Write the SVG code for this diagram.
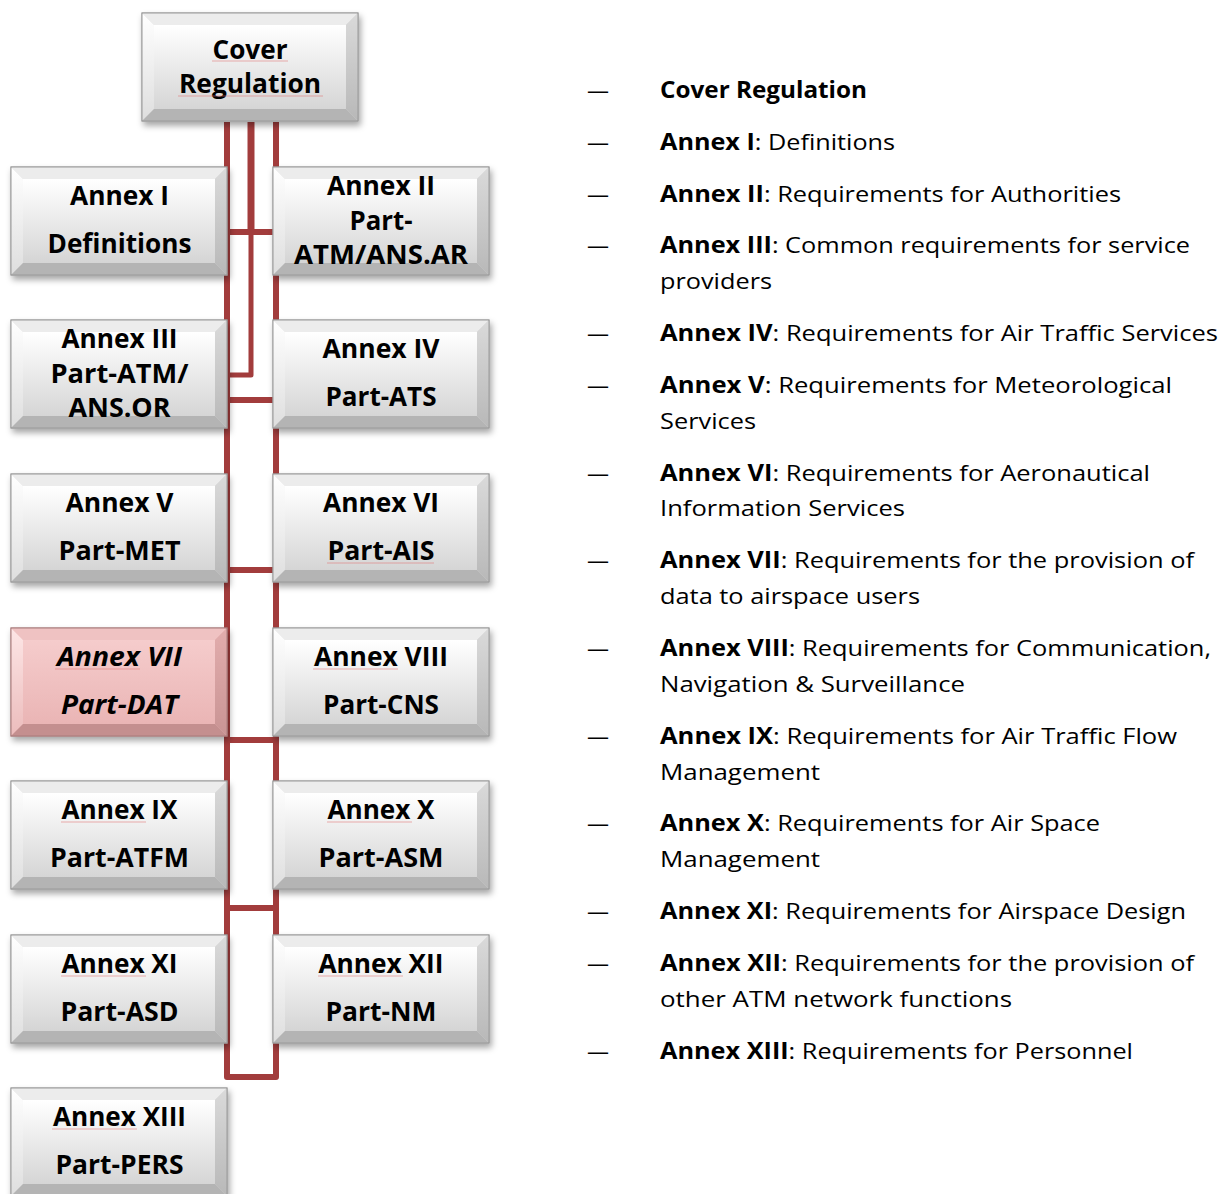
<svg xmlns="http://www.w3.org/2000/svg" xmlns:xlink="http://www.w3.org/1999/xlink" width="1222" height="1194" viewBox="0 0 1222 1194">
<style>
.bt{font-family:"Open Sans","Noto Sans","DejaVu Sans",sans-serif;font-weight:700;font-size:26px;text-anchor:middle;fill:#000}
.it{font-style:italic}
.lt{font-family:"Open Sans","Noto Sans","DejaVu Sans",sans-serif;font-size:22.5px;fill:#000}
.b{font-weight:700}
.con{fill:none;stroke:#a23c3c;stroke-width:6;stroke-linejoin:round}
.sp{stroke:#e07070;stroke-width:1.1;opacity:0.55}
</style>
<defs>
<filter id="sh" x="-10%" y="-10%" width="125%" height="130%">
<feDropShadow dx="2" dy="4" stdDeviation="3" flood-color="#000" flood-opacity="0.35"/>
</filter>
<linearGradient id="gC" x1="0" y1="0" x2="0" y2="1"><stop offset="0" stop-color="#ffffff"/><stop offset="1" stop-color="#d5d5d5"/></linearGradient>
<linearGradient id="gL" x1="0" y1="0" x2="0" y2="1"><stop offset="0" stop-color="#ffffff"/><stop offset="1" stop-color="#dedede"/></linearGradient>
<linearGradient id="gR" x1="0" y1="0" x2="0" y2="1"><stop offset="0" stop-color="#dadada"/><stop offset="1" stop-color="#b8b8b8"/></linearGradient>
<linearGradient id="pC" x1="0" y1="0" x2="0" y2="1"><stop offset="0" stop-color="#f5cccc"/><stop offset="1" stop-color="#eab5b5"/></linearGradient>
<linearGradient id="pL" x1="0" y1="0" x2="0" y2="1"><stop offset="0" stop-color="#fde6e6"/><stop offset="1" stop-color="#ecbcbc"/></linearGradient>
<linearGradient id="pR" x1="0" y1="0" x2="0" y2="1"><stop offset="0" stop-color="#e2adad"/><stop offset="1" stop-color="#c99494"/></linearGradient>
<g id="bvG">
<rect x="0" y="0" width="216" height="108" fill="#d8d8d8" stroke="#a0a0a0" stroke-width="1"/>
<polygon points="0,0 216,0 204,12 12,12" fill="#ececec"/>
<polygon points="0,0 12,12 12,96 0,108" fill="url(#gL)"/>
<polygon points="216,0 216,108 204,96 204,12" fill="url(#gR)"/>
<polygon points="0,108 12,96 204,96 216,108" fill="#b4b4b4"/>
<rect x="12" y="12" width="192" height="84" fill="url(#gC)"/>
<rect x="0" y="0" width="216" height="108" fill="none" stroke="#9a9a9a" stroke-width="1"/>
</g>
<g id="bvP">
<rect x="0" y="0" width="216" height="108" fill="#e8b4b4" stroke="#b08484" stroke-width="1"/>
<polygon points="0,0 216,0 204,12 12,12" fill="#efc2c2"/>
<polygon points="0,0 12,12 12,96 0,108" fill="url(#pL)"/>
<polygon points="216,0 216,108 204,96 204,12" fill="url(#pR)"/>
<polygon points="0,108 12,96 204,96 216,108" fill="#c48f8f"/>
<rect x="12" y="12" width="192" height="84" fill="url(#pC)"/>
<rect x="0" y="0" width="216" height="108" fill="none" stroke="#a87a7a" stroke-width="1"/>
</g>
</defs>
<rect width="1222" height="1194" fill="#ffffff"/>

<g id="connectors">
<path class="con" d="M227,122 V1077 H276 V122"/>
<path class="con" d="M251,122 V232" style="stroke-width:7"/>
<path class="con" d="M251,232 V375 H227" style="stroke-width:5"/>
<path class="con" d="M227,232 H276 M227,400 H276 M227,570 H276 M227,740 H276 M227,908 H276"/>
</g>

<g id="node-cover">
<use href="#bvG" x="142" y="13" filter="url(#sh)"/>
<text class="bt" x="250" y="59" textLength="75" lengthAdjust="spacingAndGlyphs">Cover</text>
<text class="bt" x="250" y="93" textLength="142" lengthAdjust="spacingAndGlyphs">Regulation</text>
</g>
<g id="node-annex1">
<use href="#bvG" x="11" y="167" filter="url(#sh)"/>
<text class="bt" x="119.5" y="205" textLength="99" lengthAdjust="spacingAndGlyphs">Annex I</text>
<text class="bt" x="119.5" y="253" textLength="144" lengthAdjust="spacingAndGlyphs">Definitions</text>
</g>
<g id="node-annex2">
<use href="#bvG" x="273" y="167" filter="url(#sh)"/>
<text class="bt" x="381" y="195" textLength="108" lengthAdjust="spacingAndGlyphs">Annex II</text>
<text class="bt" x="381" y="230" textLength="63" lengthAdjust="spacingAndGlyphs">Part-</text>
<text class="bt" x="381" y="264" textLength="174" lengthAdjust="spacingAndGlyphs">ATM/ANS.AR</text>
</g>
<g id="node-annex3">
<use href="#bvG" x="11" y="320" filter="url(#sh)"/>
<text class="bt" x="119.5" y="348" textLength="116" lengthAdjust="spacingAndGlyphs">Annex III</text>
<text class="bt" x="119.5" y="383" textLength="138" lengthAdjust="spacingAndGlyphs">Part-ATM/</text>
<text class="bt" x="119.5" y="417" textLength="102" lengthAdjust="spacingAndGlyphs">ANS.OR</text>
</g>
<g id="node-annex4">
<use href="#bvG" x="273" y="320" filter="url(#sh)"/>
<text class="bt" x="381" y="358" textLength="117" lengthAdjust="spacingAndGlyphs">Annex IV</text>
<text class="bt" x="381" y="406" textLength="111" lengthAdjust="spacingAndGlyphs">Part-ATS</text>
</g>
<g id="node-annex5">
<use href="#bvG" x="11" y="474" filter="url(#sh)"/>
<text class="bt" x="119.5" y="512" textLength="108" lengthAdjust="spacingAndGlyphs">Annex V</text>
<text class="bt" x="119.5" y="560" textLength="122" lengthAdjust="spacingAndGlyphs">Part-MET</text>
</g>
<g id="node-annex6">
<use href="#bvG" x="273" y="474" filter="url(#sh)"/>
<text class="bt" x="381" y="512" textLength="116" lengthAdjust="spacingAndGlyphs">Annex VI</text>
<text class="bt" x="381" y="560" textLength="107" lengthAdjust="spacingAndGlyphs">Part-AIS</text>
</g>
<g id="node-annex7">
<use href="#bvP" x="11" y="628" filter="url(#sh)"/>
<text class="bt it" x="119.5" y="666" textLength="125" lengthAdjust="spacingAndGlyphs">Annex VII</text>
<text class="bt it" x="119.5" y="714" textLength="117" lengthAdjust="spacingAndGlyphs">Part-DAT</text>
</g>
<g id="node-annex8">
<use href="#bvG" x="273" y="628" filter="url(#sh)"/>
<text class="bt" x="381" y="666" textLength="134" lengthAdjust="spacingAndGlyphs">Annex VIII</text>
<text class="bt" x="381" y="714" textLength="116" lengthAdjust="spacingAndGlyphs">Part-CNS</text>
</g>
<g id="node-annex9">
<use href="#bvG" x="11" y="781" filter="url(#sh)"/>
<text class="bt" x="119.5" y="819" textLength="116" lengthAdjust="spacingAndGlyphs">Annex IX</text>
<text class="bt" x="119.5" y="867" textLength="139" lengthAdjust="spacingAndGlyphs">Part-ATFM</text>
</g>
<g id="node-annex10">
<use href="#bvG" x="273" y="781" filter="url(#sh)"/>
<text class="bt" x="381" y="819" textLength="107" lengthAdjust="spacingAndGlyphs">Annex X</text>
<text class="bt" x="381" y="867" textLength="125" lengthAdjust="spacingAndGlyphs">Part-ASM</text>
</g>
<g id="node-annex11">
<use href="#bvG" x="11" y="935" filter="url(#sh)"/>
<text class="bt" x="119.5" y="973" textLength="116" lengthAdjust="spacingAndGlyphs">Annex XI</text>
<text class="bt" x="119.5" y="1021" textLength="118" lengthAdjust="spacingAndGlyphs">Part-ASD</text>
</g>
<g id="node-annex12">
<use href="#bvG" x="273" y="935" filter="url(#sh)"/>
<text class="bt" x="381" y="973" textLength="125" lengthAdjust="spacingAndGlyphs">Annex XII</text>
<text class="bt" x="381" y="1021" textLength="111" lengthAdjust="spacingAndGlyphs">Part-NM</text>
</g>
<g id="node-annex13">
<use href="#bvG" x="11" y="1088" filter="url(#sh)"/>
<text class="bt" x="119.5" y="1126" textLength="133" lengthAdjust="spacingAndGlyphs">Annex XIII</text>
<text class="bt" x="119.5" y="1174" textLength="128" lengthAdjust="spacingAndGlyphs">Part-PERS</text>
</g>

<g id="spellcheck-marks">
<line class="sp" x1="212" y1="61" x2="288" y2="61"/>
<line class="sp" x1="178" y1="96" x2="323" y2="96"/>
<line class="sp" x1="327" y1="563" x2="434" y2="563"/>
<line class="sp" x1="55" y1="669" x2="140" y2="669"/>
<line class="sp" x1="313" y1="669" x2="398" y2="669"/>
<line class="sp" x1="61" y1="822" x2="146" y2="822"/>
<line class="sp" x1="327" y1="822" x2="412" y2="822"/>
<line class="sp" x1="61" y1="976" x2="146" y2="976"/>
<line class="sp" x1="318" y1="976" x2="403" y2="976"/>
<line class="sp" x1="52" y1="1129" x2="137" y2="1129"/>
</g>

<g id="legend">
<text class="lt" x="587" y="98" textLength="22" lengthAdjust="spacingAndGlyphs">—</text>
<text class="lt b" x="660" y="98" textLength="207" lengthAdjust="spacingAndGlyphs">Cover Regulation</text>
<text class="lt" x="587" y="150" textLength="22" lengthAdjust="spacingAndGlyphs">—</text>
<text class="lt" x="660" y="150" textLength="235" lengthAdjust="spacingAndGlyphs"><tspan class="b">Annex I</tspan>: Definitions</text>
<text class="lt" x="587" y="202" textLength="22" lengthAdjust="spacingAndGlyphs">—</text>
<text class="lt" x="660" y="202" textLength="461" lengthAdjust="spacingAndGlyphs"><tspan class="b">Annex II</tspan>: Requirements for Authorities</text>
<text class="lt" x="587" y="253" textLength="22" lengthAdjust="spacingAndGlyphs">—</text>
<text class="lt" x="660" y="253" textLength="530" lengthAdjust="spacingAndGlyphs"><tspan class="b">Annex III</tspan>: Common requirements for service</text>
<text class="lt" x="660" y="289" textLength="112" lengthAdjust="spacingAndGlyphs">providers</text>
<text class="lt" x="587" y="341" textLength="22" lengthAdjust="spacingAndGlyphs">—</text>
<text class="lt" x="660" y="341" textLength="558" lengthAdjust="spacingAndGlyphs"><tspan class="b">Annex IV</tspan>: Requirements for Air Traffic Services</text>
<text class="lt" x="587" y="393" textLength="22" lengthAdjust="spacingAndGlyphs">—</text>
<text class="lt" x="660" y="393" textLength="512" lengthAdjust="spacingAndGlyphs"><tspan class="b">Annex V</tspan>: Requirements for Meteorological</text>
<text class="lt" x="660" y="429" textLength="96" lengthAdjust="spacingAndGlyphs">Services</text>
<text class="lt" x="587" y="481" textLength="22" lengthAdjust="spacingAndGlyphs">—</text>
<text class="lt" x="660" y="481" textLength="490" lengthAdjust="spacingAndGlyphs"><tspan class="b">Annex VI</tspan>: Requirements for Aeronautical</text>
<text class="lt" x="660" y="516" textLength="245" lengthAdjust="spacingAndGlyphs">Information Services</text>
<text class="lt" x="587" y="568" textLength="22" lengthAdjust="spacingAndGlyphs">—</text>
<text class="lt" x="660" y="568" textLength="534" lengthAdjust="spacingAndGlyphs"><tspan class="b">Annex VII</tspan>: Requirements for the provision of</text>
<text class="lt" x="660" y="604" textLength="260" lengthAdjust="spacingAndGlyphs">data to airspace users</text>
<text class="lt" x="587" y="656" textLength="22" lengthAdjust="spacingAndGlyphs">—</text>
<text class="lt" x="660" y="656" textLength="551" lengthAdjust="spacingAndGlyphs"><tspan class="b">Annex VIII</tspan>: Requirements for Communication,</text>
<text class="lt" x="660" y="692" textLength="305" lengthAdjust="spacingAndGlyphs">Navigation &amp; Surveillance</text>
<text class="lt" x="587" y="744" textLength="22" lengthAdjust="spacingAndGlyphs">—</text>
<text class="lt" x="660" y="744" textLength="517" lengthAdjust="spacingAndGlyphs"><tspan class="b">Annex IX</tspan>: Requirements for Air Traffic Flow</text>
<text class="lt" x="660" y="780" textLength="160" lengthAdjust="spacingAndGlyphs">Management</text>
<text class="lt" x="587" y="831" textLength="22" lengthAdjust="spacingAndGlyphs">—</text>
<text class="lt" x="660" y="831" textLength="440" lengthAdjust="spacingAndGlyphs"><tspan class="b">Annex X</tspan>: Requirements for Air Space</text>
<text class="lt" x="660" y="867" textLength="160" lengthAdjust="spacingAndGlyphs">Management</text>
<text class="lt" x="587" y="919" textLength="22" lengthAdjust="spacingAndGlyphs">—</text>
<text class="lt" x="660" y="919" textLength="526" lengthAdjust="spacingAndGlyphs"><tspan class="b">Annex XI</tspan>: Requirements for Airspace Design</text>
<text class="lt" x="587" y="971" textLength="22" lengthAdjust="spacingAndGlyphs">—</text>
<text class="lt" x="660" y="971" textLength="534" lengthAdjust="spacingAndGlyphs"><tspan class="b">Annex XII</tspan>: Requirements for the provision of</text>
<text class="lt" x="660" y="1007" textLength="352" lengthAdjust="spacingAndGlyphs">other ATM network functions</text>
<text class="lt" x="587" y="1059" textLength="22" lengthAdjust="spacingAndGlyphs">—</text>
<text class="lt" x="660" y="1059" textLength="473" lengthAdjust="spacingAndGlyphs"><tspan class="b">Annex XIII</tspan>: Requirements for Personnel</text>
</g>
</svg>
